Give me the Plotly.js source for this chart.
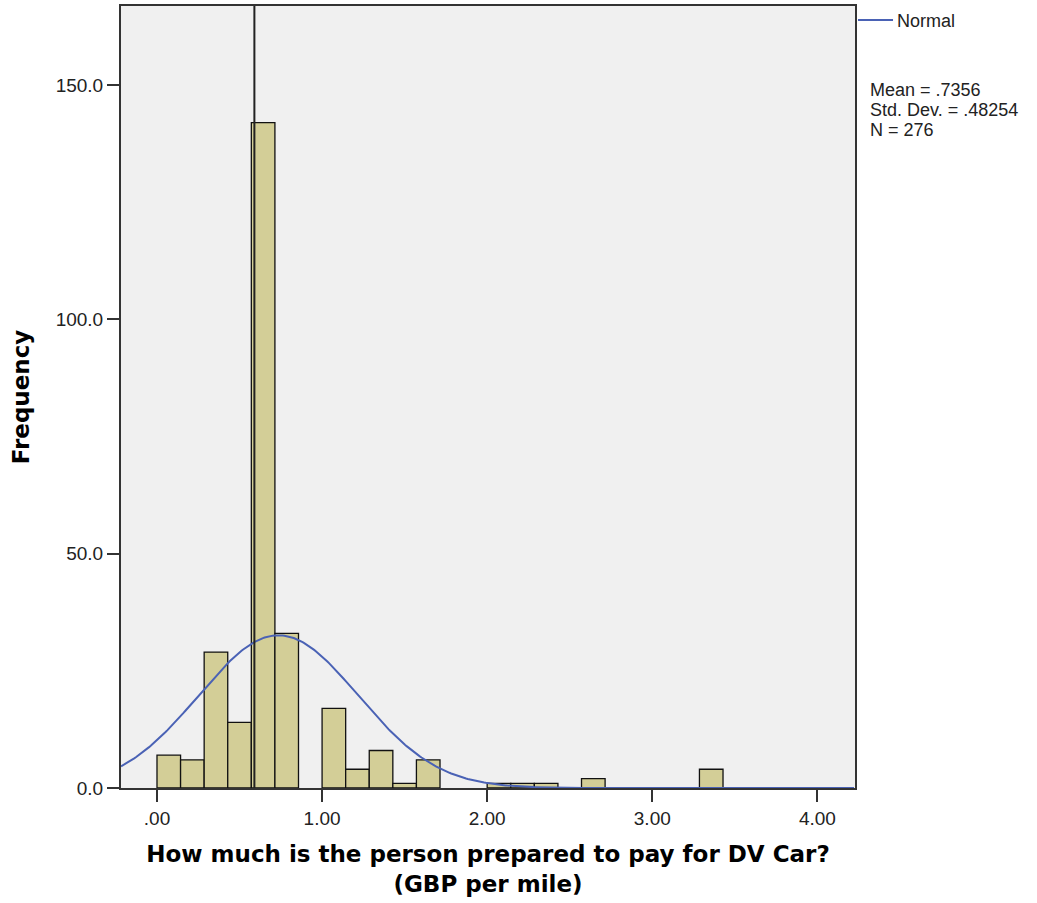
<!DOCTYPE html>
<html><head><meta charset="utf-8">
<script src="https://cdn.plot.ly/plotly-3.0.1.min.js"></script>
<style>html,body{margin:0;padding:0;background:#fff}#chart{width:1037px;height:903px}</style>
</head><body><div id="chart"></div>
<script>
// Histogram bins (width 1/7 GBP, first bin starts at 0)
const binWidth = 0.142857;
const binStart = 0;
const counts = [7, 6, 29, 14, 142, 33, 0, 17, 4, 8, 1, 6, 0, 0, 1, 1, 1, 0, 2, 0, 0, 0, 0, 4];

// Stats shown in the chart
const statMean = 0.7356;
const statSD = 0.48254;
const statN = 276;
const statLabels = ['Mean = .7356', 'Std. Dev. = .48254', 'N = 276'];
const legendLabel = 'Normal';

// Tick labels
const xTickVals = [0, 1, 2, 3, 4];
const xTickText = ['.00', '1.00', '2.00', '3.00', '4.00'];
const yTickVals = [0, 50, 100, 150];
const yTickText = ['0.0', '50.0', '100.0', '150.0'];

// Reference vertical line position
const refLineX = 0.59;

const xRange = [-0.218, 4.228];
const yRange = [0, 166.9];

// bars (skip empty bins)
const bx = [], by = [];
counts.forEach((c, i) => {
  if (c > 0) { bx.push(binStart + (i + 0.5) * binWidth); by.push(c); }
});

// normal curve from displayed stats
const cx = [], cy = [];
const scale = statN * binWidth / (statSD * Math.sqrt(2 * Math.PI));
for (let x = xRange[0]; x <= xRange[1] + 1e-9; x += 0.01) {
  const z = (x - statMean) / statSD;
  cx.push(x); cy.push(scale * Math.exp(-0.5 * z * z));
}

const curveColor = '#4a62b5';
const traces = [
  { type: 'bar', x: bx, y: by, width: binWidth, showlegend: false,
    marker: { color: '#d3ce97', line: { color: '#111', width: 1.3 } }, hoverinfo: 'x+y' },
  { type: 'scatter', mode: 'lines', x: cx, y: cy, name: legendLabel, showlegend: false,
    line: { color: curveColor, width: 2 } }
];

const textFont = { family: 'Liberation Sans, Arial, sans-serif', size: 18, color: '#222' };
const tickFont = { family: 'Liberation Sans, Arial, sans-serif', size: 19, color: '#222' };
const titleFont = { family: 'DejaVu Sans, Verdana, sans-serif', size: 23, color: '#000', weight: 'bold' };

const annotations = statLabels.map((t, i) => ({
  text: t, xref: 'paper', yref: 'paper', x: 1.0195, y: [0.8926, 0.8670, 0.8414][i],
  xanchor: 'left', yanchor: 'middle', showarrow: false, borderpad: 0, font: textFont
}));
annotations.push({
  text: legendLabel, xref: 'paper', yref: 'paper', x: 1.0565, y: 0.9808,
  xanchor: 'left', yanchor: 'middle', showarrow: false, borderpad: 0, font: textFont
});

const layout = {
  width: 1037, height: 903,
  margin: { l: 121, r: 182, t: 6, b: 115 },
  paper_bgcolor: '#fff', plot_bgcolor: '#f0f0f0',
  bargap: 0,
  showlegend: false,
  xaxis: {
    range: xRange, tickvals: xTickVals, ticktext: xTickText,
    ticks: 'outside', ticklen: 12, tickwidth: 2, tickcolor: '#333',
    showline: true, mirror: true, linecolor: '#333', linewidth: 2,
    showgrid: false, zeroline: false, tickfont: tickFont,
    title: { text: '<b>How much is the person prepared to pay for DV Car?<br>(GBP per mile)</b>', font: titleFont, standoff: 18 }
  },
  yaxis: {
    range: yRange, tickvals: yTickVals, ticktext: yTickText,
    ticks: 'outside', ticklen: 12, tickwidth: 2, tickcolor: '#333',
    showline: true, mirror: true, linecolor: '#333', linewidth: 2,
    showgrid: false, zeroline: false, tickfont: tickFont,
    title: { text: '<b>Frequency</b>', font: titleFont, standoff: 20 }
  },
  shapes: [
    { type: 'line', xref: 'x', yref: 'paper', x0: refLineX, x1: refLineX, y0: 0, y1: 1,
      line: { color: '#222', width: 2 } },
    { type: 'line', xref: 'paper', yref: 'paper', x0: 1.0041, x1: 1.0518, y0: 0.9821, y1: 0.9821,
      line: { color: curveColor, width: 2 } }
  ],
  annotations: annotations
};

Plotly.newPlot('chart', traces, layout, { displayModeBar: false, staticPlot: true });
</script>
</body></html>
